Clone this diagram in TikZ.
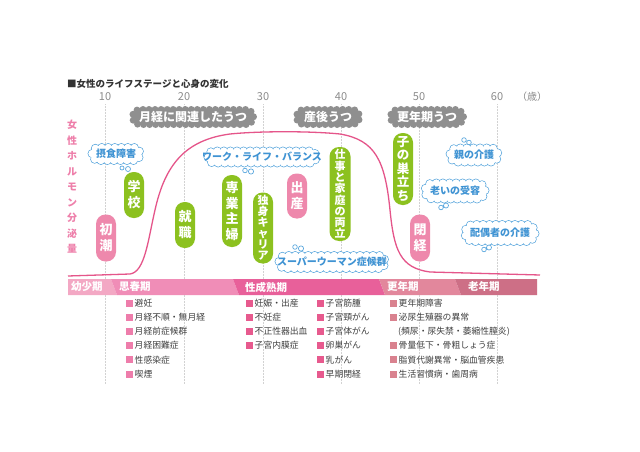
\documentclass[tikz,border=0pt]{standalone}
\usepackage{fontspec}
\setmainfont{Noto Sans CJK JP}
\definecolor{cgreen}{HTML}{8CC11F}
\definecolor{cpink}{HTML}{EE88AC}
\definecolor{cgray}{HTML}{8F8F8F}
\definecolor{cblue}{HTML}{5CA8DE}
\definecolor{cbluet}{HTML}{3F93D3}
\definecolor{ccurve}{HTML}{E5558A}
\definecolor{chorm}{HTML}{EE7FAA}
\definecolor{ctitle}{HTML}{333333}
\definecolor{ctext}{HTML}{404040}
\definecolor{cage}{HTML}{8C8C8C}
\definecolor{mA}{HTML}{EE7DAB}
\definecolor{mB}{HTML}{E75A8E}
\definecolor{mC}{HTML}{D9828F}
\definecolor{sA}{HTML}{F3A8C4}
\definecolor{sB}{HTML}{F08DB7}
\definecolor{sC}{HTML}{E8609A}
\definecolor{sD}{HTML}{E2879C}
\definecolor{sE}{HTML}{CD6F86}
\newcommand\fsz[2]{\fontsize{#1}{#2}\selectfont}
% puffs along a stadium: cx cy W H spacing radius style
\newcommand\stadiumpuffs[7]{%
  \pgfmathsetmacro\sa{max((#3-#4)/2,0)}%
  \pgfmathsetmacro\sR{#4/2}%
  \pgfmathsetmacro\sL{4*\sa+2*pi*\sR}%
  \pgfmathtruncatemacro\sn{round(\sL/#5)}%
  \pgfmathsetmacro\sds{\sL/\sn}%
  \foreach \k in {1,...,\sn}{%
    \pgfmathsetmacro\st{(\k-0.5)*\sds}%
    \pgfmathsetmacro\px{\st<2*\sa ? #1-\sa+\st : (\st<2*\sa+pi*\sR ? #1+\sa+\sR*sin(deg((\st-2*\sa)/\sR)) : (\st<4*\sa+pi*\sR ? #1+\sa-(\st-2*\sa-pi*\sR) : #1-\sa-\sR*sin(deg((\st-4*\sa-pi*\sR)/\sR))))}%
    \pgfmathsetmacro\py{\st<2*\sa ? #2-\sR : (\st<2*\sa+pi*\sR ? #2-\sR*cos(deg((\st-2*\sa)/\sR)) : (\st<4*\sa+pi*\sR ? #2+\sR : #2+\sR*cos(deg((\st-4*\sa-pi*\sR)/\sR))))}%
    \path[#7] (\px,\py) circle[radius=#6];
  }%
}
\newcommand\graycloud[4]{%
  \pgfmathsetmacro\gw{#3-7}\pgfmathsetmacro\gh{#4-7}%
  \stadiumpuffs{#1}{#2}{\gw}{\gh}{6}{3.5pt}{fill=cgray}%
  \pgfmathsetmacro\gr{\gh/2}%
  \fill[cgray, rounded corners=\gr pt] (#1-\gw/2, #2-\gh/2) rectangle (#1+\gw/2, #2+\gh/2);
}
\newcommand\bluecloud[4]{%
  \pgfmathsetmacro\bw{#3-8}\pgfmathsetmacro\bh{#4-8}%
  \stadiumpuffs{#1}{#2}{\bw}{\bh}{6.5}{4pt}{draw=cblue, line width=0.8pt}%
  \stadiumpuffs{#1}{#2}{\bw}{\bh}{6.5}{3.6pt}{fill=white}%
  \pgfmathsetmacro\br{\bh/2+1.5}%
  \fill[white, rounded corners=\br pt] (#1-\bw/2-1.5, #2-\bh/2-1.5) rectangle (#1+\bw/2+1.5, #2+\bh/2+1.5);
}
\begin{document}
\begin{tikzpicture}[x=1pt,y=-1pt,
  vbub/.style={rounded corners=9.5pt, minimum width=20pt, inner sep=0pt, align=center, text=white},
  greenb/.style={vbub, fill=cgreen},
  pinkb/.style={vbub, fill=cpink},
  graytext/.style={text=white, font=\bfseries\fsz{12}{12}, inner sep=0pt},
  bluetext/.style={text=cbluet, font=\bfseries\fsz{10}{10}, inner sep=0pt},
  tailc/.style={draw=cblue, fill=white, line width=0.7pt},
  agelab/.style={text=cage, font=\fsz{11}{11}, inner sep=0pt},
  stagetext/.style={text=white, font=\bfseries\fsz{10.5}{10.5}, inner sep=0pt, anchor=west},
  item/.style={text=ctext, font=\fsz{8.8}{8.8}, inner sep=0pt, anchor=west},
  grid/.style={gray!35, line width=0.5pt, densely dotted}
]
\useasboundingbox (0,0) rectangle (640,452);
\fill[white] (0,0) rectangle (640,452);

% title
\node[anchor=west, inner sep=0pt, text=ctitle, font=\bfseries\fsz{9.5}{9.5}] (title) at (67,84) {■女性のライフステージと心身の変化};

% age axis
\foreach \a/\x in {10/105,20/184,30/263,40/341,50/419,60/497}{
  \node[agelab] (age\a) at (\x,97) {\a};
  \draw[grid] (\x,104) -- (\x,384);
}
\node[agelab, font=\fsz{10}{10}] (sai) at (532,97) {（歳）};

% hormone label
\node[text=chorm, font=\bfseries\fsz{10}{15.5}, align=center, inner sep=0pt, anchor=north] (horm) at (72,120) {女\\性\\ホ\\ル\\モ\\ン\\分\\泌\\量};

% hormone curve
\draw[ccurve, line width=1.3pt] (68,276) -- (130,274)
  .. controls (145,272) and (148,240) .. (155,210)
  .. controls (165,165) and (185,140) .. (230,134)
  .. controls (260,131) and (310,131) .. (340,134)
  .. controls (375,140) and (385,160) .. (390,210)
  .. controls (394,250) and (400,268) .. (430,272)
  -- (540,275);

% gray clouds
\graycloud{193}{117}{128}{22}
\node[graytext] (g1t) at (193,117) {月経に関連したうつ};
\graycloud{328}{117}{70}{22}
\node[graytext] (g2t) at (328,117) {産後うつ};
\graycloud{427}{117}{80}{22}
\node[graytext] (g3t) at (427,117) {更年期うつ};

% blue clouds
\bluecloud{116}{154}{56}{21}
\node[bluetext] (b1t) at (116,154) {摂食障害};
\draw[tailc] (122,168) circle (2pt) (128,169) circle (2.5pt);

\bluecloud{262}{157}{116}{20}
\node[bluetext] (b2t) at (262,157) {ワーク・ライフ・バランス};
\draw[tailc] (245,170.5) circle (2.3pt) (251,171.5) circle (2.6pt);

\bluecloud{332}{262}{114}{21}
\node[bluetext] (b3t) at (332,262) {スーパーウーマン症候群};
\draw[tailc] (295,247) circle (2.3pt) (301,248.5) circle (2.6pt);

\bluecloud{474}{155}{56}{22}
\node[bluetext] (b4t) at (474,155) {親の介護};
\draw[tailc] (464,140) circle (2.3pt) (469,142.5) circle (2.3pt);

\bluecloud{455}{191}{68}{24}
\node[bluetext] (b5t) at (455,191) {老いの受容};
\draw[tailc] (441,207.5) circle (2.3pt) (446,205.5) circle (2.5pt);

\bluecloud{500}{233}{78}{25}
\node[bluetext] (b6t) at (500,233) {配偶者の介護};
\draw[tailc] (484,249.5) circle (2.3pt) (489,247.5) circle (2.5pt);

% vertical bubbles
\node[greenb, minimum height=46pt, font=\bfseries\fsz{13}{16}] (gakko) at (134,195) {学\\校};
\node[pinkb, minimum height=47pt, font=\bfseries\fsz{13}{16}] (shocho) at (106,238) {初\\潮};
\node[greenb, minimum height=46pt, font=\bfseries\fsz{13}{16}] (shushoku) at (185,225) {就\\職};
\node[greenb, minimum height=72pt, font=\bfseries\fsz{13}{15.5}] (sengyo) at (232,211) {専\\業\\主\\婦};
\node[greenb, minimum height=71pt, font=\bfseries\fsz{11}{11}] (dokushin) at (263,228) {独\\身\\キ\\ャ\\リ\\ア};
\node[pinkb, minimum height=45pt, font=\bfseries\fsz{13}{16}] (shussan) at (297,196) {出\\産};
\node[greenb, minimum height=94pt, minimum width=21pt, font=\bfseries\fsz{11}{11.3}] (ryoritsu) at (340,194) {仕\\事\\と\\家\\庭\\の\\両\\立};
\node[greenb, minimum height=72pt, font=\bfseries\fsz{12.5}{13.5}] (sudachi) at (403,169) {子\\の\\巣\\立\\ち};
\node[pinkb, minimum height=47pt, font=\bfseries\fsz{13}{16}] (heikei) at (420,238) {閉\\経};

% stage bar
\fill[sA] (68,279) -- (111,279) -- (117,295) -- (68,295) -- cycle;
\fill[sB] (111,279) -- (233,279) -- (239,295) -- (117,295) -- cycle;
\fill[sC] (233,279) -- (379,279) -- (385,295) -- (239,295) -- cycle;
\fill[sD] (379,279) -- (455,279) -- (461,295) -- (385,295) -- cycle;
\fill[sE] (455,279) -- (537,279) -- (537,295) -- (461,295) -- cycle;
\node[stagetext] (st1) at (71,287) {幼少期};
\node[stagetext] (st2) at (119,287) {思春期};
\node[stagetext] (st3) at (245,287) {性成熟期};
\node[stagetext] (st4) at (387,287) {更年期};
\node[stagetext] (st5) at (468,287) {老年期};

% lists
\foreach \t [count=\i] in {避妊,月経不順・無月経,月経前症候群,月経困難症,性感染症,喫煙}{
  \fill[mA] (126,{303+(\i-1)*14.2-3.5}) rectangle ++(7,7);
  \node[item] (la\i) at (134.5,{303+(\i-1)*14.2}) {\t};
}
\foreach \t [count=\i] in {妊娠・出産,不妊症,不正性器出血,子宮内膜症}{
  \fill[mB] (246,{303+(\i-1)*14.2-3.5}) rectangle ++(7,7);
  \node[item] (lb\i) at (254.5,{303+(\i-1)*14.2}) {\t};
}
\foreach \t [count=\i] in {子宮筋腫,子宮頸がん,子宮体がん,卵巣がん,乳がん,早期閉経}{
  \fill[mB] (317,{303+(\i-1)*14.2-3.5}) rectangle ++(7,7);
  \node[item] (lc\i) at (325.5,{303+(\i-1)*14.2}) {\t};
}
\foreach \t/\i in {更年期障害/1,泌尿生殖器の異常/2,骨量低下・骨粗しょう症/4,脂質代謝異常・脳血管疾患/5,生活習慣病・歯周病/6}{
  \fill[mC] (390,{303+(\i-1)*14.2-3.5}) rectangle ++(7,7);
  \node[item] (ld\i) at (398.5,{303+(\i-1)*14.2}) {\t};
}
\node[item] (ld3) at (398,{303+2*14.2}) {(頻尿・尿失禁・萎縮性膣炎)};
\end{tikzpicture}
\end{document}
